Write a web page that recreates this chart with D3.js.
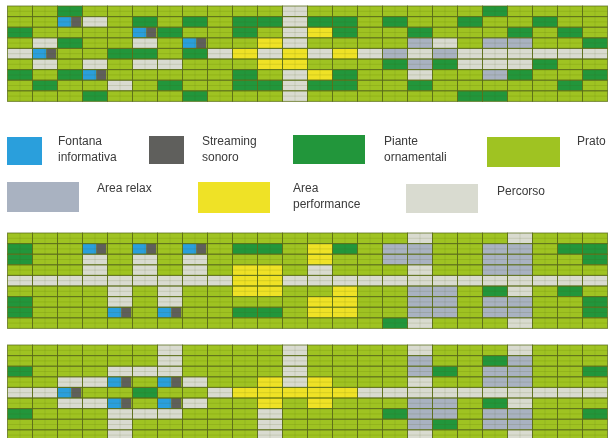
<!DOCTYPE html>
<html><head><meta charset="utf-8">
<script src="https://cdn.jsdelivr.net/npm/d3@7"></script>
<style>body{margin:0;background:#fff;overflow:hidden} svg{display:block}</style>
</head><body>
<script>
// ---- data ----
const categories = ["F", "S", "D", "P", "R", "Y", "G"];
const labels = [["Fontana", "informativa"], ["Streaming", "sonoro"], ["Piante", "ornamentali"], ["Prato"],
                ["Area relax"], ["Area", "performance"], ["Percorso"]];
const colors = ["#2b9fdc", "#5f5f5b", "#22963b", "#9fc321", "#a9b2c1", "#efe225", "#d9dbd0"];
const columns = d3.range(24);
const rowsIdx = d3.range(9);
// F = fountain (left half) + streaming (right half)
const grid1 = [
  "PPDPPPPPPPPGPPPPPPPDPPPP",
  "PPFGPDPDPDDGDDPDPPDPPDPP",
  "DPPPPFDPPDPGYDPPDPPPDPDP",
  "PGDPPGPFPPYGPPPPRGPRRPPD",
  "GFPPDDPDGYGYGYGRGRGGGGGG",
  "PGPGPGGPPPYYPPPDRDGGGDPP",
  "DPDFPPPPPDPGYDPPGPPRDPPD",
  "PDPPGPDPPDDGDDPPDPPPPPDP",
  "PPPDPPPDPPPGPPPPPPDDPPPP"
];
const grid2 = [
  "PPPPPPPPPPPPPPPPGPPPGPPP",
  "DPPFPFPFPDDPYDPRRPPRRPDD",
  "DPPGPGPGPPPPYPPRRPPRRPPD",
  "PPPGPGPGPYYPGPPPGPPRRPPP",
  "GGGGGGGGGYYGGGGGGGGGGGGG",
  "PPPPGPGPPYYPPYPPRRPDGPDP",
  "DPPPGPGPPPPPYYPPRRPRRPPD",
  "DPPPFPFPPDDPYYPPRRPRRPPD",
  "PPPPPPPPPPPPPPPDGPPPGPPP"
];
const grid3 = [
  "PPPPPPGPPPPGPPPPGPPPGPPP",
  "PPPPPPGPPPPGPPPPRPPDRPPP",
  "DPPPGGGPPPPGPPPPRDPRRPPD",
  "PPGGFPFGPPYGYPPPGPPRRPPP",
  "GGFPPDPPGYYYYYGGGGGGGGGG",
  "PPGGFPFGPPYPYPPPRRPDGPPP",
  "DPPPGGGPPPGPPPPDRRPRRPPD",
  "PPPPGPPPPPGPPPPPRDPRRPPP",
  "PPPPGPPPPPGPPPPPGPPPGPPP"
];

// ---- drawing ----
const W = 608, H = 438;
const svg = d3.select("body").append("svg").attr("width", W).attr("height", H);
const color = d3.scaleOrdinal().domain(categories).range(colors);
const x = d3.scaleBand().domain(columns).range([7.5, 607.5]).padding(0);
const gridTops = [6, 233, 345];
const rowH = 10.6;

const defs = svg.append("defs");
defs.append("filter").attr("id", "soft").append("feGaussianBlur").attr("stdDeviation", 0.35);

[grid1, grid2, grid3].forEach((grid, gi) => {
  const y = d3.scaleBand().domain(rowsIdx).range([gridTops[gi], gridTops[gi] + rowH * 9]).padding(0);
  const g = svg.append("g").attr("filter", "url(#soft)");
  const cells = [];
  grid.forEach((row, r) => row.split("").forEach((code, c) => cells.push({r, c, code})));
  const bw = x.bandwidth(), bh = y.bandwidth();
  // base fills
  g.selectAll("rect.cell").data(cells).join("rect")
    .attr("class", "cell")
    .attr("x", d => x(d.c)).attr("y", d => y(d.r))
    .attr("width", bw).attr("height", bh)
    .attr("fill", d => d.code === "F" ? color("P") : color(d.code));
  // fountain + streaming halves
  const fs = cells.filter(d => d.code === "F");
  g.selectAll("rect.fon").data(fs).join("rect")
    .attr("x", d => x(d.c)).attr("y", d => y(d.r))
    .attr("width", bw * 0.55).attr("height", bh).attr("fill", color("F"));
  g.selectAll("rect.str").data(fs).join("rect")
    .attr("x", d => x(d.c) + bw * 0.55).attr("y", d => y(d.r))
    .attr("width", bw * 0.4).attr("height", bh).attr("fill", color("S"));
  // faint inner subdivision lines
  g.selectAll("line.sub").data(cells).join("line")
    .attr("x1", d => x(d.c)).attr("x2", d => x(d.c) + bw)
    .attr("y1", d => y(d.r) + bh / 2).attr("y2", d => y(d.r) + bh / 2)
    .attr("stroke", "#4d5e10").attr("stroke-opacity", 0.18).attr("stroke-width", 0.8);
  g.selectAll("line.subv").data(cells).join("line")
    .attr("x1", d => x(d.c) + bw / 2).attr("x2", d => x(d.c) + bw / 2)
    .attr("y1", d => y(d.r)).attr("y2", d => y(d.r) + bh)
    .attr("stroke", "#4d5e10").attr("stroke-opacity", 0.15).attr("stroke-width", 0.8);
  // cell borders
  g.selectAll("rect.border").data(cells).join("rect")
    .attr("x", d => x(d.c)).attr("y", d => y(d.r))
    .attr("width", bw).attr("height", bh)
    .attr("fill", "none").attr("stroke", "#5a6c14").attr("stroke-opacity", 0.75).attr("stroke-width", 1);
});

// ---- legend ----
const legendLayout = [
  {sx: 7,   sy: 137, sw: 35, sh: 28, tx: 58,  ty: 145},
  {sx: 149, sy: 136, sw: 35, sh: 28, tx: 202, ty: 145},
  {sx: 293, sy: 135, sw: 72, sh: 29, tx: 384, ty: 145},
  {sx: 487, sy: 137, sw: 73, sh: 30, tx: 577, ty: 145},
  {sx: 7,   sy: 182, sw: 72, sh: 30, tx: 97,  ty: 192},
  {sx: 198, sy: 182, sw: 72, sh: 31, tx: 293, ty: 192},
  {sx: 406, sy: 184, sw: 72, sh: 29, tx: 497, ty: 195}
];
const lg = svg.append("g").attr("filter", "url(#soft)");
categories.forEach((cat, i) => {
  const L = legendLayout[i];
  lg.append("rect").attr("x", L.sx).attr("y", L.sy).attr("width", L.sw).attr("height", L.sh)
    .attr("fill", color(cat));
  const t = lg.append("text").attr("x", L.tx).attr("y", L.ty)
    .attr("font-family", "Liberation Sans, Arial, sans-serif").attr("font-size", 12)
    .attr("fill", "#3a3a3a");
  labels[i].forEach((line, li) => {
    t.append("tspan").attr("x", L.tx).attr("dy", li === 0 ? 0 : 16).text(line);
  });
});
</script>
</body></html>
